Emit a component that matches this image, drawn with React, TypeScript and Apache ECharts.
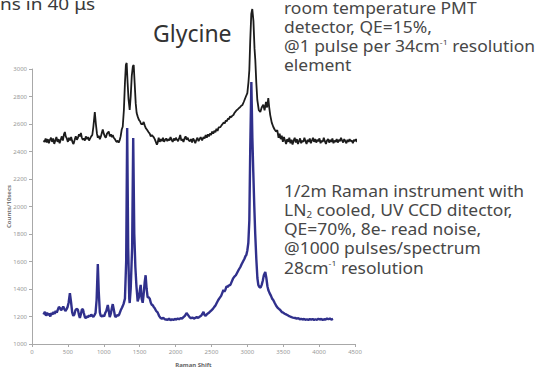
import React, { useEffect, useRef } from "react";
import * as echarts from "echarts";

// Axis scales
const xMin = 0;
const xMax = 4500;
const xStep = 500;
const yMin = 1000;
const yMax = 3000;
const yStep = 200;
const xAxisTitle = "Raman Shift";
const yAxisTitle = "Counts/10secs";

// Texts
const cutCaption = "ns in 40 μs";
const sampleTitle = "Glycine";
const pmtNote = "room temperature PMT\ndetector, QE=15%,\n@1 pulse per 34cm{sup|-1} resolution\nelement";
const ccdNote = "1/2m Raman instrument with\nLN{sub|2} cooled, UV CCD ditector,\nQE=70%, 8e- read noise,\n@1000 pulses/spectrum\n28cm{sup|-1} resolution";

// Blue trace: LN2 CCD spectrum [Raman shift, counts]
const ccdSpectrum: [number, number][] = [
  [160,1215],[180,1235],[195,1205],[210,1228],[225,1210],[240,1222],[255,1200],[270,1225],[285,1215],[300,1232],
  [315,1220],[330,1240],[345,1228],[360,1250],[375,1270],[390,1262],[405,1245],[420,1258],[435,1272],[450,1255],
  [465,1240],[480,1252],[495,1268],[510,1300],[528,1370],[545,1300],[560,1230],[575,1205],[590,1215],[605,1245],
  [620,1255],[639,1250],[655,1210],[667,1190],[680,1215],[695,1250],[708,1255],[722,1225],[737,1195],[750,1188],
  [765,1200],[780,1195],[795,1208],[810,1200],[825,1215],[840,1205],[855,1198],[870,1210],[885,1225],[900,1320],
  [917,1582],[930,1380],[945,1230],[958,1205],[975,1200],[990,1210],[1005,1200],[1020,1225],[1035,1240],[1056,1284],
  [1070,1240],[1083,1195],[1098,1220],[1112,1260],[1125,1290],[1140,1250],[1155,1205],[1167,1195],[1185,1210],[1200,1205],
  [1215,1215],[1236,1245],[1255,1265],[1275,1290],[1295,1330],[1312,1600],[1326,2571],[1340,1700],[1355,1330],[1361,1298],
  [1375,1400],[1395,1700],[1410,2498],[1425,1800],[1440,1560],[1455,1420],[1472,1310],[1490,1340],[1505,1400],[1514,1430],
  [1528,1330],[1542,1300],[1555,1360],[1570,1450],[1583,1500],[1597,1400],[1611,1340],[1625,1340],[1640,1330],[1655,1300],
  [1670,1284],[1681,1284],[1695,1270],[1710,1260],[1730,1240],[1750,1230],[1770,1205],[1790,1190],[1810,1185],[1830,1190],
  [1850,1180],[1870,1178],[1890,1175],[1910,1185],[1930,1172],[1950,1180],[1970,1175],[1990,1182],[2010,1178],[2030,1185],
  [2050,1180],[2070,1188],[2090,1185],[2110,1195],[2130,1205],[2153,1225],[2175,1210],[2195,1195],[2215,1188],[2235,1192],
  [2255,1185],[2275,1190],[2295,1195],[2315,1190],[2335,1198],[2355,1205],[2375,1220],[2389,1233],[2405,1210],[2420,1205],
  [2440,1218],[2460,1225],[2480,1235],[2500,1245],[2520,1255],[2540,1270],[2556,1280],[2575,1300],[2595,1320],[2615,1335],
  [2635,1350],[2650,1370],[2667,1393],[2680,1380],[2695,1395],[2710,1420],[2725,1415],[2740,1425],[2764,1430],[2780,1450],
  [2800,1475],[2820,1490],[2840,1500],[2860,1520],[2880,1540],[2903,1560],[2920,1580],[2940,1600],[2960,1620],[2975,1640],
  [2986,1647],[3000,1680],[3014,1735],[3028,1900],[3040,2400],[3056,2905],[3070,2500],[3083,2250],[3097,2000],[3110,1800],
  [3125,1620],[3140,1480],[3153,1430],[3167,1415],[3185,1410],[3200,1430],[3215,1460],[3230,1500],[3250,1524],[3265,1480],
  [3280,1420],[3292,1393],[3310,1370],[3330,1350],[3345,1330],[3361,1320],[3380,1300],[3400,1280],[3420,1265],[3440,1255],
  [3458,1247],[3480,1232],[3500,1228],[3520,1220],[3540,1215],[3556,1211],[3575,1205],[3595,1200],[3615,1195],[3635,1192],
  [3667,1189],[3690,1185],[3710,1188],[3730,1180],[3750,1183],[3770,1178],[3790,1182],[3810,1176],[3830,1180],[3850,1175],
  [3870,1181],[3890,1177],[3910,1182],[3930,1175],[3950,1180],[3970,1176],[3990,1183],[4010,1178],[4030,1182],[4050,1175],
  [4070,1180],[4090,1178],[4110,1186],[4130,1180],[4150,1185],[4170,1178],[4194,1183]
];

// Black trace: room temperature PMT spectrum [Raman shift, counts]
const pmtSpectrum: [number, number][] = [
  [160,2480],[175,2470],[190,2495],[205,2465],[220,2490],[235,2460],[250,2485],[265,2500],[280,2470],[295,2495],
  [310,2455],[325,2480],[340,2505],[355,2470],[370,2490],[385,2460],[400,2485],[415,2510],[430,2480],[445,2525],
  [458,2542],[470,2510],[485,2495],[500,2470],[515,2500],[530,2480],[545,2505],[560,2475],[575,2455],[583,2462],
  [597,2490],[610,2510],[625,2485],[640,2500],[655,2525],[668,2510],[681,2535],[695,2500],[708,2485],[722,2495],
  [737,2480],[750,2510],[765,2490],[780,2505],[795,2480],[810,2495],[825,2510],[840,2520],[855,2580],[875,2687],
  [890,2600],[905,2530],[917,2500],[930,2515],[945,2490],[960,2510],[975,2540],[986,2560],[1000,2530],[1015,2510],
  [1028,2500],[1045,2530],[1069,2545],[1085,2510],[1100,2525],[1115,2505],[1125,2520],[1139,2500],[1155,2490],[1170,2475],
  [1185,2470],[1195,2480],[1208,2465],[1220,2480],[1235,2510],[1250,2560],[1264,2580],[1280,2700],[1295,2900],[1308,3030],
  [1319,3044],[1332,2900],[1345,2780],[1361,2702],[1375,2800],[1390,2950],[1405,3020],[1417,3029],[1430,2900],[1445,2750],
  [1458,2680],[1475,2650],[1490,2630],[1505,2620],[1520,2600],[1542,2600],[1556,2615],[1570,2590],[1585,2570],[1600,2560],
  [1625,2540],[1640,2530],[1655,2510],[1670,2520],[1694,2505],[1710,2490],[1725,2470],[1740,2450],[1750,2462],[1765,2500],
  [1780,2470],[1795,2490],[1810,2475],[1825,2500],[1840,2470],[1855,2485],[1870,2495],[1885,2475],[1900,2490],[1915,2480],
  [1930,2505],[1945,2485],[1960,2470],[1975,2495],[1990,2480],[2005,2500],[2020,2485],[2035,2475],[2050,2495],[2065,2520],
  [2080,2480],[2095,2490],[2110,2470],[2125,2495],[2140,2510],[2155,2485],[2170,2500],[2185,2480],[2200,2475],[2215,2490],
  [2230,2465],[2245,2495],[2260,2480],[2275,2460],[2290,2485],[2305,2500],[2320,2475],[2335,2490],[2350,2505],[2370,2480],
  [2389,2505],[2405,2495],[2420,2520],[2435,2500],[2450,2525],[2465,2510],[2480,2530],[2495,2520],[2510,2545],[2525,2530],
  [2540,2550],[2555,2540],[2570,2565],[2585,2550],[2600,2575],[2625,2578],[2640,2590],[2655,2600],[2670,2610],[2685,2605],
  [2700,2625],[2715,2620],[2730,2640],[2745,2635],[2760,2655],[2775,2650],[2790,2660],[2806,2665],[2820,2680],[2835,2690],
  [2850,2700],[2865,2705],[2880,2715],[2895,2720],[2910,2730],[2931,2738],[2950,2760],[2965,2780],[2980,2800],[3000,2825],
  [3015,2900],[3028,2993],[3040,3200],[3055,3400],[3069,3436],[3085,3350],[3100,3150],[3111,3065],[3125,2900],[3139,2775],
  [3160,2700],[3181,2687],[3200,2720],[3222,2740],[3240,2700],[3260,2760],[3275,2720],[3292,2789],[3305,2720],[3319,2665],
  [3340,2610],[3361,2580],[3380,2560],[3400,2545],[3417,2556],[3435,2500],[3450,2530],[3465,2490],[3480,2515],[3495,2470],
  [3510,2505],[3525,2480],[3540,2455],[3555,2490],[3570,2470],[3585,2500],[3600,2460],[3615,2485],[3630,2450],[3645,2480],
  [3660,2500],[3675,2465],[3690,2490],[3705,2455],[3720,2475],[3735,2495],[3750,2460],[3765,2480],[3780,2470],[3795,2500],
  [3810,2475],[3825,2455],[3840,2485],[3855,2470],[3870,2495],[3885,2460],[3900,2480],[3915,2500],[3930,2470],[3945,2490],
  [3960,2465],[3975,2485],[3990,2475],[4005,2495],[4020,2460],[4035,2480],[4050,2470],[4065,2500],[4080,2475],[4095,2455],
  [4110,2480],[4125,2490],[4140,2465],[4155,2485],[4170,2470],[4185,2495],[4200,2460],[4215,2480],[4230,2470],[4245,2490],
  [4260,2465],[4275,2485],[4290,2475],[4305,2500],[4320,2480],[4335,2465],[4350,2490],[4365,2475],[4380,2460],[4395,2485],
  [4410,2470],[4425,2490],[4440,2475],[4455,2480],[4470,2460],[4485,2485],[4500,2475],[4515,2490],[4530,2470],[4545,2480],
  [4560,2465],[4575,2485],[4590,2475],[4605,2490],[4620,2470],[4635,2480],[4650,2495],[4665,2475],[4681,2490]
];

const FONT = "'Noto Sans', 'DejaVu Sans', sans-serif";
const NOTE_FILL = "#474747";

const noteRich = {
  sup: { fontSize: 8, fontFamily: FONT, fill: NOTE_FILL, verticalAlign: "top", lineHeight: 19, padding: [1, 0, 0, 0] },
  sub: { fontSize: 9, fontFamily: FONT, fill: NOTE_FILL, verticalAlign: "bottom", lineHeight: 19 },
};

export default function App() {
  const ref = useRef<HTMLDivElement>(null);
  useEffect(() => {
    if (!ref.current) return;
    const chart = echarts.init(ref.current, null, { renderer: "svg" });
    const axisGrey = "#a8a8a8";
    chart.setOption({
      animation: false,
      backgroundColor: "#ffffff",
      grid: { left: 32, right: 182, top: 69, bottom: 24, containLabel: false, outerBoundsMode: "none" },
      xAxis: {
        type: "value",
        min: xMin,
        max: xMax,
        interval: xStep,
        name: xAxisTitle,
        nameLocation: "middle",
        nameGap: 18,
        nameMoveOverlap: false,
        nameTextStyle: { fontSize: 6, color: "#666", fontFamily: FONT, fontWeight: "bold" },
        axisLine: { show: true, lineStyle: { color: axisGrey, width: 1 } },
        axisTick: { show: true, length: 3, lineStyle: { color: axisGrey } },
        axisLabel: { fontSize: 6, color: "#999", margin: 5, fontFamily: FONT, formatter: (v: number) => String(v) },
        splitLine: { show: false },
      },
      yAxis: {
        type: "value",
        min: yMin,
        max: yMax,
        interval: yStep,
        name: yAxisTitle,
        nameLocation: "middle",
        nameGap: 20,
        nameMoveOverlap: false,
        nameRotate: 90,
        nameTextStyle: { fontSize: 6, color: "#777", fontFamily: FONT, fontWeight: "bold" },
        axisLine: { show: true, lineStyle: { color: axisGrey, width: 1 } },
        axisTick: { show: true, length: 3, lineStyle: { color: axisGrey } },
        axisLabel: { fontSize: 6, color: "#999", margin: 5, fontFamily: FONT, formatter: (v: number) => String(v) },
        splitLine: { show: false },
      },
      series: [
        {
          name: "CCD",
          type: "line",
          data: ccdSpectrum,
          showSymbol: false,
          clip: false,
          lineStyle: { color: "#30308c", width: 2.4 },
          z: 2,
        },
        {
          name: "PMT",
          type: "line",
          data: pmtSpectrum,
          showSymbol: false,
          clip: false,
          lineStyle: { color: "#1c1c1c", width: 1.8 },
          z: 3,
        },
      ],
      graphic: [
        {
          type: "text",
          x: 0,
          y: -5,
          scaleX: 1.12,
          style: { text: cutCaption, fontSize: 17, lineHeight: 17, fontFamily: FONT, fill: "#3a3a3a", verticalAlign: "top" },
        },
        {
          type: "text",
          x: 153,
          y: 21,
          style: { text: sampleTitle, fontSize: 23, lineHeight: 23, fontFamily: FONT, fill: "#333", verticalAlign: "top" },
        },
        {
          type: "text",
          x: 284,
          y: -2,
          scaleX: 1.09,
          style: { text: pmtNote, fontSize: 16, lineHeight: 19.2, fontFamily: FONT, fill: NOTE_FILL, verticalAlign: "top", rich: noteRich },
        },
        {
          type: "text",
          x: 284,
          y: 181,
          scaleX: 1.09,
          style: { text: ccdNote, fontSize: 16, lineHeight: 19.2, fontFamily: FONT, fill: NOTE_FILL, verticalAlign: "top", rich: noteRich },
        },
      ],
    });
    return () => chart.dispose();
  }, []);
  return (
    <div
      ref={ref}
      style={{ position: "fixed", left: 0, top: 0, width: 537, height: 368, background: "#fff" }}
    />
  );
}
